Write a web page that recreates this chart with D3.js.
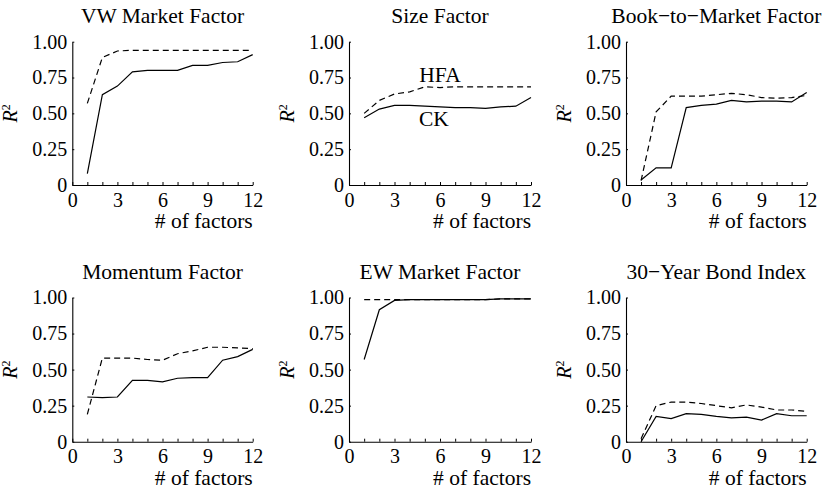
<!DOCTYPE html>
<html>
<head>
<meta charset="utf-8">
<script src="https://cdn.jsdelivr.net/npm/d3@7"></script>
<style>
  html, body { margin: 0; padding: 0; background: #fff; }
  svg { display: block; }
  text { font-family: "Liberation Serif", "Times New Roman", serif; fill: #000; }
</style>
</head>
<body>
<svg id="chart" width="831" height="491"></svg>
<script>
// ---------- data ----------
const titles = ["VW Market Factor", "Size Factor", "Book\u2212to\u2212Market Factor",
                "Momentum Factor", "EW Market Factor", "30\u2212Year Bond Index"];
const factors = [1, 2, 3, 4, 5, 6, 7, 8, 9, 10, 11, 12];
const xTickValues = [0, 3, 6, 9, 12];
const yTickValues = [0, 0.25, 0.5, 0.75, 1];
const yTickLabels = ["0", "0.25", "0.50", "0.75", "1.00"];

const ckVW   = [0.08, 0.63, 0.69, 0.79, 0.80, 0.80, 0.80, 0.835, 0.835, 0.855, 0.86, 0.91];
const hfaVW  = [0.57, 0.89, 0.935, 0.94, 0.94, 0.94, 0.94, 0.94, 0.94, 0.94, 0.94, 0.94];
const ckSize = [0.47, 0.53, 0.555, 0.555, 0.55, 0.545, 0.54, 0.54, 0.535, 0.545, 0.55, 0.61];
const hfaSize= [0.50, 0.59, 0.635, 0.65, 0.685, 0.68, 0.685, 0.685, 0.685, 0.685, 0.685, 0.685];
const ckBM   = [0.035, 0.12, 0.12, 0.54, 0.555, 0.565, 0.59, 0.58, 0.585, 0.585, 0.58, 0.645];
const hfaBM  = [0.03, 0.51, 0.62, 0.62, 0.62, 0.63, 0.64, 0.63, 0.61, 0.605, 0.61, 0.625];
const ckMom  = [0.31, 0.305, 0.31, 0.425, 0.425, 0.415, 0.44, 0.445, 0.445, 0.565, 0.59, 0.64];
const hfaMom = [0.19, 0.58, 0.58, 0.58, 0.57, 0.565, 0.61, 0.63, 0.655, 0.655, 0.65, 0.645];
const ckEW   = [0.57, 0.915, 0.98, 0.985, 0.985, 0.985, 0.985, 0.985, 0.985, 0.99, 0.99, 0.99];
const hfaEW  = [0.985, 0.985, 0.985, 0.985, 0.985, 0.985, 0.985, 0.985, 0.985, 0.99, 0.99, 0.99];
const ckBond = [0.0, 0.175, 0.16, 0.195, 0.19, 0.175, 0.165, 0.17, 0.15, 0.195, 0.18, 0.18];
const hfaBond= [0.02, 0.25, 0.275, 0.275, 0.265, 0.25, 0.235, 0.255, 0.24, 0.22, 0.22, 0.21];

const ckSeries  = [ckVW, ckSize, ckBM, ckMom, ckEW, ckBond];
const hfaSeries = [hfaVW, hfaSize, hfaBM, hfaMom, hfaEW, hfaBond];
const seriesLabels = [{text: "HFA", x: 6, y: 0.72}, {text: "CK", x: 5.6, y: 0.41}];

// ---------- layout ----------
const colX = [[72.3, 252.7], [349, 531], [626, 806.7]];
const rowY = [[185, 41.7], [441.7, 297.5]];
const tickFont = 20;
const labelFont = 21.5;

const svg = d3.select("#chart");

titles.forEach((title, i) => {
  const col = i % 3, row = Math.floor(i / 3);
  const x = d3.scaleLinear().domain([0, 12]).range(colX[col]);
  const y = d3.scaleLinear().domain([0, 1]).range(rowY[row]);
  const g = svg.append("g");

  // x axis
  const xAxis = d3.axisBottom(x)
    .tickValues(d3.range(0, 13))
    .tickSizeInner(-3).tickSizeOuter(0).tickPadding(7.5)
    .tickFormat(d => xTickValues.includes(d) ? String(d) : "");
  const gx = g.append("g").attr("transform", `translate(0,${rowY[row][0]})`).call(xAxis);
  gx.selectAll("text").attr("font-size", tickFont).attr("font-family", "Liberation Serif, serif");
  gx.select(".domain").attr("stroke", "#000").attr("stroke-width", 1.1);
  gx.selectAll(".tick line").attr("stroke", "#000");

  // y axis
  const yAxis = d3.axisLeft(y)
    .tickValues(yTickValues)
    .tickSizeInner(-2).tickSizeOuter(0).tickPadding(5)
    .tickFormat((d, k) => yTickLabels[k]);
  const gy = g.append("g").attr("transform", `translate(${colX[col][0]},0)`).call(yAxis);
  gy.selectAll("text").attr("font-size", tickFont).attr("font-family", "Liberation Serif, serif");
  gy.select(".domain").attr("stroke", "#000").attr("stroke-width", 1.1);
  gy.selectAll(".tick line").attr("stroke", "#000");

  // title
  g.append("text")
    .attr("x", (colX[col][0] + colX[col][1]) / 2)
    .attr("y", rowY[row][1] - 19)
    .attr("text-anchor", "middle")
    .attr("font-size", labelFont)
    .text(title);

  // x label
  g.append("text")
    .attr("x", colX[col][1])
    .attr("y", rowY[row][0] + 43)
    .attr("text-anchor", "end")
    .attr("font-size", labelFont)
    .text("# of factors");

  // y label R^2
  const yl = g.append("text")
    .attr("transform", `translate(${colX[col][0] - 55},${(rowY[row][0] + rowY[row][1]) / 2}) rotate(-90)`)
    .attr("text-anchor", "middle")
    .attr("font-size", 20);
  yl.append("tspan").attr("font-style", "italic").text("R");
  yl.append("tspan").attr("font-size", 12).attr("dy", -7).text("2");

  // lines
  const line = d3.line().x((d, k) => x(factors[k])).y(d => y(d));
  g.append("path").datum(hfaSeries[i])
    .attr("d", line).attr("fill", "none").attr("stroke", "#000")
    .attr("stroke-width", 1.2).attr("stroke-dasharray", "6,4");
  g.append("path").datum(ckSeries[i])
    .attr("d", line).attr("fill", "none").attr("stroke", "#000")
    .attr("stroke-width", 1.2);

  if (i === 1) {
    seriesLabels.forEach(s => {
      g.append("text")
        .attr("x", x(s.x)).attr("y", y(s.y))
        .attr("text-anchor", "middle")
        .attr("font-size", labelFont)
        .text(s.text);
    });
  }
});
</script>
</body>
</html>
